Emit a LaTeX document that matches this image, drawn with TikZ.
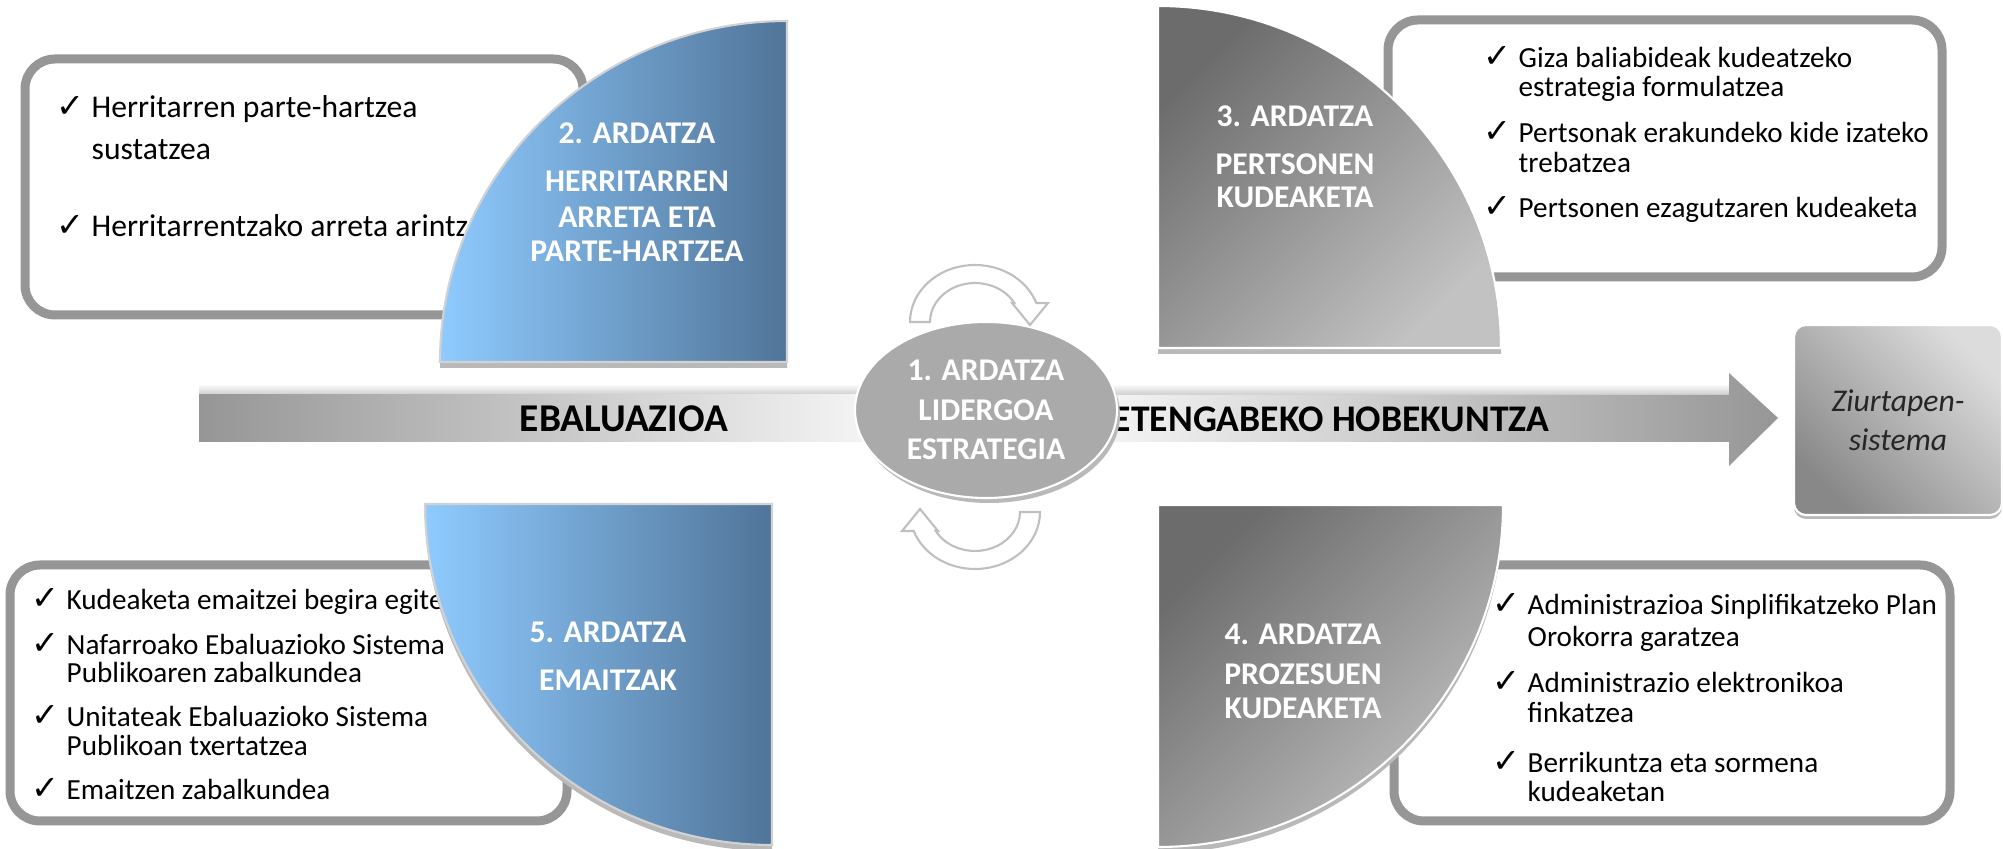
\documentclass[tikz,border=0pt]{standalone}
\usepackage{fontspec}
\setmainfont{Carlito}
\newfontfamily\checkfont{DejaVu Sans}
\usetikzlibrary{shapes.geometric}

\definecolor{boxgray}{RGB}{150,150,150}
\definecolor{blueL}{RGB}{143,203,255}
\definecolor{blueR}{RGB}{80,116,152}
\definecolor{greyD}{RGB}{108,108,108}
\definecolor{greyL}{RGB}{194,194,194}
\definecolor{bandD}{RGB}{150,150,150}
\definecolor{bandL}{RGB}{246,246,246}
\definecolor{hubgray}{RGB}{170,170,170}
\definecolor{certL}{RGB}{220,220,220}
\definecolor{certD}{RGB}{136,136,136}

\newcommand{\chk}{\makebox[0.35cm][l]{\checkfont\fontsize{9.5}{9.5}\selectfont ✓}}
\newcommand{\nochk}{\hspace*{0.35cm}}

\begin{document}
\begin{tikzpicture}[
    itembox/.style={draw=boxgray, line width=0.09cm, rounded corners=0.3cm, fill=white},
    item/.style={anchor=base west, inner sep=0, font=\fontsize{8.3}{10}\selectfont},
    head/.style={anchor=base, inner sep=0, text=white, font=\bfseries\fontsize{9}{11}\selectfont},
    bluequad/.style={left color=blueL, right color=blueR, draw=gray!35, line width=0.6pt},
    greyquad/.style={top color=greyD, bottom color=greyL, shading angle=45, draw=white, line width=0.6pt},
    quadshadow/.style={fill=gray!55, yshift=-0.06cm},
    turn/.style={fill=white, draw=gray!50, line width=0.6pt},
    bandlabel/.style={anchor=base, inner sep=0, font=\bfseries\fontsize{10.7}{12}\selectfont}]

    \useasboundingbox (0,0) rectangle (20.03,8.49);

    % band
    \shade[top color=white, bottom color=gray!40] (1.99,4.54) rectangle (8.8,4.65);
    \shade[top color=white, bottom color=gray!40] (10.9,4.54) rectangle (17.29,4.65);
    \shade[left color=bandD, right color=bandL] (1.99,4.07) rectangle (8.8,4.54);
    \shade[left color=bandL, right color=bandD] (10.9,4.07) -- (17.29,4.07) -- (17.29,3.83) -- (17.78,4.31) -- (17.29,4.76) -- (17.29,4.54) -- (10.9,4.54) -- cycle;
    \node[bandlabel, font=\bfseries\fontsize{11.2}{13}\selectfont] (ebal) at (6.24,4.17) {EBALUAZIOA};
    \node[bandlabel] (heten) at (13.31,4.17) {ETENGABEKO HOBEKUNTZA};

    % boxes
    \draw[itembox] (0.25,5.34) rectangle (5.83,7.90);
    \draw[itembox] (13.88,5.72) rectangle (19.42,8.29);
    \draw[itembox] (0.10,0.28) rectangle (5.67,2.84);
    \draw[itembox] (13.94,0.28) rectangle (19.50,2.84);

    \foreach \yy/\txt [count=\i] in {7.31/{\chk Herritarren parte-hartzea}, 6.89/{\nochk sustatzea}, 6.12/{\chk Herritarrentzako arreta arintzea}}
        \node[item, font=\fontsize{9}{10}\selectfont] (tl\i) at (0.56,\yy) {\txt};
    \foreach \yy/\txt [count=\i] in {7.81/{\chk Giza baliabideak kudeatzeko}, 7.52/{\nochk estrategia formulatzea}, 7.06/{\chk Pertsonak erakundeko kide izateko}, 6.76/{\nochk trebatzea}, 6.31/{\chk Pertsonen ezagutzaren kudeaketa}}
        \node[item] (tr\i) at (14.83,\yy) {\txt};
    \foreach \yy/\txt [count=\i] in {2.39/{\chk Kudeaketa emaitzei begira egitea}, 1.94/{\chk Nafarroako Ebaluazioko Sistema}, 1.66/{\nochk Publikoaren zabalkundea}, 1.22/{\chk Unitateak Ebaluazioko Sistema}, 0.93/{\nochk Publikoan txertatzea}, 0.49/{\chk Emaitzen zabalkundea}}
        \node[item] (bl\i) at (0.31,\yy) {\txt};
    \foreach \yy/\txt [count=\i] in {2.34/{\chk Administrazioa Sinplifikatzeko Plan}, 2.02/{\nochk Orokorra garatzea}, 1.56/{\chk Administrazio elektronikoa}, 1.26/{\nochk finkatzea}, 0.76/{\chk Berrikuntza eta sormena}, 0.47/{\nochk kudeaketan}}
        \node[item] (br\i) at (14.92,\yy) {\txt};

    % quarters
    \fill[quadshadow] (7.87,4.87) -- (4.40,4.87) arc[start angle=180, end angle=90, x radius=3.47, y radius=3.41] -- cycle;
    \draw[bluequad] (7.87,4.87) -- (4.40,4.87) arc[start angle=180, end angle=90, x radius=3.47, y radius=3.41] -- cycle;
    \fill[quadshadow] (11.58,5.01) -- (11.58,8.43) arc[start angle=90, end angle=0, x radius=3.43, y radius=3.42] -- cycle;
    \draw[greyquad] (11.58,5.01) -- (11.58,8.43) arc[start angle=90, end angle=0, x radius=3.43, y radius=3.42] -- cycle;
    \fill[quadshadow] (11.58,3.44) -- (15.03,3.44) arc[start angle=0, end angle=-90, x radius=3.45, y radius=3.42] -- cycle;
    \draw[greyquad] (11.58,3.44) -- (15.03,3.44) arc[start angle=0, end angle=-90, x radius=3.45, y radius=3.42] -- cycle;
    \fill[quadshadow] (7.72,3.45) -- (4.25,3.45) arc[start angle=180, end angle=270, x radius=3.47, y radius=3.41] -- cycle;
    \draw[bluequad] (7.72,3.45) -- (4.25,3.45) arc[start angle=180, end angle=270, x radius=3.47, y radius=3.41] -- cycle;

    \foreach \yy/\txt [count=\i] in {7.05/2. ARDATZA, 6.57/HERRITARREN, 6.21/ARRETA ETA, 5.87/PARTE-HARTZEA}
        \node[head] (qa\i) at (6.37,\yy) {\txt};
    \foreach \yy/\txt [count=\i] in {7.22/3. ARDATZA, 6.74/PERTSONEN, 6.41/KUDEAKETA}
        \node[head] (qb\i) at (12.95,\yy) {\txt};
    \foreach \yy/\txt [count=\i] in {2.04/4. ARDATZA, 1.64/PROZESUEN, 1.30/KUDEAKETA}
        \node[head] (qc\i) at (13.03,\yy) {\txt};
    \foreach \yy/\txt [count=\i] in {2.06/5. ARDATZA, 1.58/EMAITZAK}
        \node[head] (qd\i) at (6.08,\yy) {\txt};

    % hub
    \fill[gray!55] (9.89,4.34) ellipse[x radius=1.31, y radius=0.88];
    \node[ellipse, fill=hubgray, draw=white, line width=0.6pt, minimum width=2.62cm, minimum height=1.76cm, inner sep=0, align=center, text=white, font=\bfseries\fontsize{9}{11.2}\selectfont] (hub) at (9.86,4.39) {1. ARDATZA\\LIDERGOA\\ESTRATEGIA};

    \foreach \ang in {0,180}
        \draw[turn, shift={(9.75,4.32)}, rotate=\ang] (-0.65,0.95) arc[start angle=180, end angle=19.5, x radius=0.65, y radius=0.57] -- (0.73,1.14) -- (0.55,0.92) -- (0.37,1.14) -- (0.393,1.14) arc[start angle=29.2, end angle=180, x radius=0.45, y radius=0.39] -- cycle;

    % certification
    \fill[gray!55, rounded corners=0.12cm] (17.94,3.30) rectangle (20.02,5.20);
    \node[rectangle, rounded corners=0.12cm, minimum width=2.08cm, minimum height=1.90cm, top color=certL, bottom color=certD, shading angle=-45, draw=white, line width=0.6pt, align=center, text=black!85, font=\itshape\fontsize{9}{11.2}\selectfont] (cert) at (18.98,4.29) {Ziurtapen-\\sistema};
\end{tikzpicture}
\end{document}
